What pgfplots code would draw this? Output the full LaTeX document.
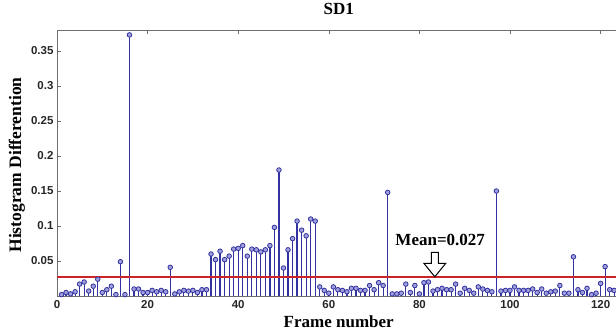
\documentclass[border=0pt]{standalone}
\usepackage{pgfplots}
\pgfplotsset{compat=1.18}
\usepackage{fontspec}
\setmainfont{Liberation Serif}
\newfontfamily\arialfont{Liberation Sans}
\definecolor{stemblue}{RGB}{50,50,160}
\definecolor{markfill}{RGB}{160,160,220}
\definecolor{meanred}{RGB}{205,35,40}
\definecolor{axgray}{RGB}{110,110,110}
\begin{document}
\begin{tikzpicture}
\begin{axis}[
  at={(0,0)}, anchor=south west,
  scale only axis, width=559pt, height=266pt,
  xmin=0, xmax=123.4, ymin=0, ymax=0.38,
  axis x line=box, axis y line=left,
  x axis line style={-, draw=axgray}, y axis line style={-, draw=axgray},
  tick style={draw=axgray, line width=0.6pt},
  major tick length=4pt, tick align=inside,
  xtick={0,20,40,60,80,100,120},
  ytick={0.05,0.1,0.15,0.2,0.25,0.3,0.35},
  yticklabels={0.05,0.1,0.15,0.2,0.25,0.3,0.35},
  xticklabels={0,20,40,60,80,100,120},
  tick label style={font=\arialfont\bfseries\fontsize{11.5}{13}\selectfont, text=black!85},
  /pgf/number format/assume math mode=true,
  xticklabel style={yshift=-1pt},
  title={SD1},
  title style={at={(0.504,1.0564)}, anchor=center, font=\bfseries\fontsize{17}{20}\selectfont},
  xlabel={Frame number},
  xlabel style={at={(0.504,-0.0966)}, anchor=center, font=\bfseries\fontsize{17}{20}\selectfont},
  ylabel={Histogram Differention},
  ylabel style={at={(-0.0716,0.4925)}, anchor=center, rotate=0, font=\bfseries\fontsize{17.5}{20}\selectfont},
  clip=true,
]
\addplot[ycomb, draw=stemblue, line width=1.2pt,
  mark=*, mark size=2.3pt, mark options={draw=stemblue, fill=markfill, line width=0.8pt}]
table {
x y
1 0.002
2 0.005
3 0.003
4 0.006
5 0.017
6 0.020
7 0.007
8 0.014
9 0.024
10 0.005
11 0.009
12 0.014
13 0.002
14 0.049
15 0.002
16 0.373
17 0.010
18 0.010
19 0.005
20 0.005
21 0.008
22 0.006
23 0.008
24 0.006
25 0.041
26 0.003
27 0.006
28 0.008
29 0.007
30 0.008
31 0.005
32 0.009
33 0.009
34 0.060
35 0.052
36 0.064
37 0.052
38 0.057
39 0.067
40 0.068
41 0.072
42 0.057
43 0.067
44 0.066
45 0.063
46 0.066
47 0.072
48 0.098
49 0.180
50 0.040
51 0.066
52 0.082
53 0.107
54 0.094
55 0.086
56 0.110
57 0.107
58 0.013
59 0.008
60 0.004
61 0.013
62 0.009
63 0.008
64 0.006
65 0.011
66 0.011
67 0.008
68 0.008
69 0.015
70 0.009
71 0.019
72 0.015
73 0.148
74 0.003
75 0.003
76 0.004
77 0.017
78 0.005
79 0.015
80 0.003
81 0.019
82 0.020
83 0.007
84 0.009
85 0.011
86 0.009
87 0.009
88 0.017
89 0.004
90 0.011
91 0.008
92 0.004
93 0.013
94 0.010
95 0.008
96 0.006
97 0.150
98 0.007
99 0.008
100 0.008
101 0.013
102 0.008
103 0.008
104 0.008
105 0.010
106 0.005
107 0.010
108 0.004
109 0.006
110 0.007
111 0.015
112 0.004
113 0.004
114 0.056
115 0.009
116 0.005
117 0.011
118 0.002
119 0.004
120 0.018
121 0.042
122 0.009
123 0.008
};
\addplot[meanred, line width=1.5pt] coordinates {(0,0.027) (123.4,0.027)};
\node[font=\bfseries\fontsize{17}{20}\selectfont, anchor=center] at (axis cs:84.6,0.080) {Mean=0.027};
\draw[line width=1pt, fill=white, draw=black] (axis cs:83.4,0.0275) -- ++(11pt,13.5pt) -- ++(-7.5pt,0) -- ++(0,11pt) -- ++(-7pt,0) -- ++(0,-11pt) -- ++(-7.5pt,0) -- cycle;
\end{axis}
\pgfresetboundingbox
\path[use as bounding box] (-57pt,-34pt) rectangle (559pt,296pt);
\end{tikzpicture}
\end{document}
